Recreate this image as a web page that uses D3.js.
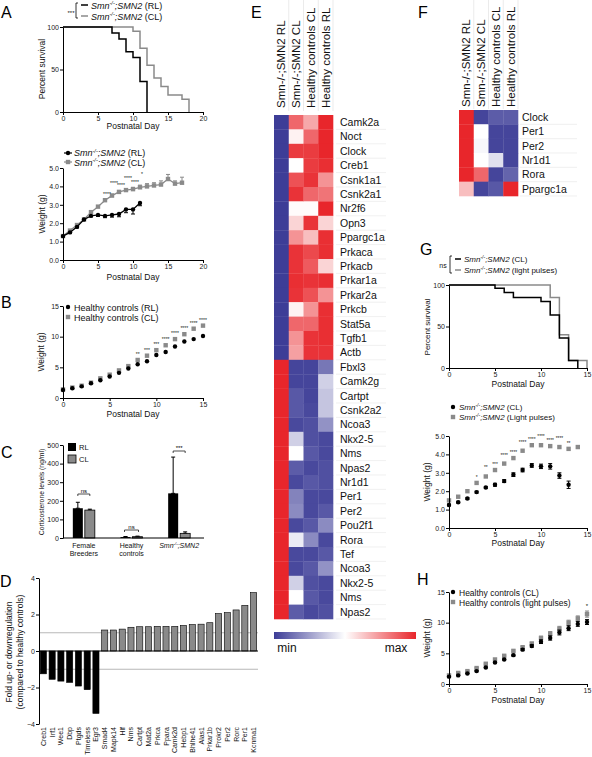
<!DOCTYPE html>
<html><head><meta charset="utf-8">
<script src="https://cdn.jsdelivr.net/npm/d3@7"></script>
<style>body{margin:0;background:#fff} svg{font-family:"Liberation Sans",Arial,sans-serif}</style>
</head><body><svg id="c" width="592" height="757"></svg>
<script>
// ---------------- DATA ----------------
// A survival (day, percent)
const survA_RL = [[0,100],[7,93],[8,86],[9,71],[10,64],[11,36],[12,0]];
const survA_CL = [[0,100],[10,95],[11,75],[12,55],[13,40],[14,30],[15,20],[17,15],[18,0]];
// A weight (g) per day
const wA_RL = [1.3,1.5,1.8,2.2,2.4,2.45,2.4,2.45,2.5,2.75,2.75,3.1];
const wA_RL_err = [0.05,0.05,0.05,0.05,0.06,0.08,0.1,0.12,0.15,0.18,0.25,0.15];
const wA_CL = [1.3,1.6,1.9,2.2,2.6,2.9,3.25,3.5,3.7,3.8,3.85,3.95,4.0,4.05,4.1,4.4,4.15,4.2];
const wA_CL_err = [0.05,0.05,0.05,0.05,0.06,0.06,0.08,0.08,0.08,0.08,0.1,0.12,0.15,0.15,0.2,0.25,0.15,0.3];
const wA_stars = [[6,"****"],[7,"****"],[8,"****"],[9,"****"],[10,"****"],[11,"*"]];
// B weight healthy controls
const wB_RL = [1.3,1.6,1.9,2.4,2.9,3.5,4.1,4.8,5.5,6.0,7.0,7.5,8.4,9.2,9.6,10.1];
const wB_CL = [1.4,1.7,2.0,2.5,3.2,3.8,4.5,5.2,6.2,6.9,7.8,8.6,9.6,10.4,11.3,11.8];
const wB_stars = [[8,"**"],[9,"***"],[10,"***"],[11,"****"],[12,"****"],[13,"****"],[14,"****"],[15,"****"]];
// C corticosterone
const cGroups = ["Female Breeders","Healthy controls","Smn"];
const cRL = [160,5,240];
const cRL_err = [32,3,195];
const cCL = [150,7,25];
const cCL_err = [5,3,8];
// D fold change
const dGenes = ["Creb1","Irf1","Wee1","Dbp","Ptgds","Timeless","Egr3","Smad4","Mapk14","Hlf","Nms","Cartpt","Mat2a","Prkca","Ppara","Camk2d","Hebp1","Bhlhe41","Alas1","Prkar1b","Prokr2","Per2","Rorc","Per1","Kcnma1"];
const dValues = [-1.25,-1.55,-1.65,-1.72,-1.92,-2.12,-3.42,1.15,1.15,1.2,1.3,1.33,1.33,1.35,1.35,1.35,1.4,1.45,1.47,1.55,2.05,2.1,2.25,2.5,3.2];
// E heatmap
const heatCols = ["Smn-/-;SMN2 RL","Smn-/-;SMN2 CL","Healthy controls CL","Healthy controls RL"];
const heatGenes = ["Camk2a","Noct","Clock","Creb1","Csnk1a1","Csnk2a1","Nr2f6","Opn3","Ppargc1a","Prkaca","Prkacb","Prkar1a","Prkar2a","Prkcb","Stat5a","Tgfb1","Actb","Fbxl3","Camk2g","Cartpt","Csnk2a2","Ncoa3","Nkx2-5","Nms","Npas2","Nr1d1","Per1","Per2","Pou2f1","Rora","Tef","Ncoa3","Nkx2-5","Nms","Npas2"];
const heatSmnRL = [0,0,0,0,0,0,0,0,0,0,0,0,0,0,0,0,0,1,1,1,1,1,1,1,1,1,1,1,1,1,1,1,1,1,1];
const heatSmnCL = [0.85,0.53,0.95,0.5,0.9,0.97,0.51,0.6,0.75,0.97,0.97,0.98,0.97,0.53,0.85,0.75,0.72,0.02,0.02,0.07,0.07,0.03,0.38,0.5,0.08,0.03,0.18,0.2,0.03,0.45,0.03,0.03,0.38,0.5,0.08];
const heatHcCL = [0.7,0.85,0.95,0.95,0.97,0.85,0.51,0.97,0.65,0.92,0.88,0.97,0.9,0.75,0.85,0.97,0.97,0.02,0.02,0.02,0.03,0.05,0.05,0.07,0.03,0.07,0.03,0.03,0.07,0.2,0.03,0.07,0.05,0.07,0.03];
const heatHcRL = [1,1,1,0.98,0.75,0.82,1,0.6,0.98,0.98,0.6,0.98,0.75,0.98,0.98,0.98,0.97,0.15,0.38,0.35,0.35,0.22,0.03,0.03,0.05,0.05,0.03,0.07,0.2,0.03,0.07,0.22,0.03,0.03,0.05];
// F heatmap
const fGenes = ["Clock","Per1","Per2","Nr1d1","Rora","Ppargc1a"];
const fSmnRL = [1,1,1,1,1,0.65];
const fSmnCL = [0.02,0.5,0.48,0.5,0.85,0.02];
const fHcCL = [0.08,0.02,0.02,0.42,0.02,0.07];
const fHcRL = [0.08,0.02,0.02,0.02,0.1,1];
// G survival
const survG_CL = [[0,100],[5,96],[6,91],[7,85],[10,80],[11,64],[12,36],[13,9],[14,0]];
const survG_LP = [[0,100],[11,85],[12,40],[13,9],[15,0]];
// G weight
const wG_CL = [1.25,1.4,1.6,1.95,2.2,2.35,2.55,2.9,3.15,3.4,3.35,3.35,2.85,2.35];
const wG_CL_err = [0.05,0.05,0.05,0.05,0.05,0.08,0.08,0.1,0.1,0.1,0.12,0.15,0.15,0.2];
const wG_LP = [1.5,1.7,2.0,2.45,2.8,3.15,3.5,3.8,4.2,4.5,4.5,4.45,4.4,4.3,4.4];
const wG_stars = [[3,"*"],[4,"**"],[5,"***"],[6,"****"],[7,"****"],[8,"****"],[9,"****"],[10,"****"],[11,"****"],[12,"****"],[13,"**"]];
// H weight
const wH_CL = [1.2,1.4,1.7,2.1,2.7,3.5,4.0,4.7,5.6,6.2,6.9,7.5,8.4,9.1,9.8,10.1];
const wH_CL_err = [0.05,0.05,0.05,0.1,0.1,0.1,0.1,0.15,0.15,0.2,0.3,0.35,0.4,0.4,0.4,0.4];
const wH_LP = [1.4,1.8,2.1,2.6,3.3,4.0,4.6,5.4,6.0,6.6,7.5,8.2,9.0,10.0,10.7,11.4];
const wH_LP_err = [0.05,0.05,0.05,0.1,0.1,0.1,0.1,0.15,0.15,0.2,0.3,0.35,0.4,0.4,0.4,0.5];

// ---------------- HELPERS ----------------
const svg = d3.select("#c");
const GRAY = "#8a8a8a";
function styleAxis(g, fs){
  g.selectAll(".domain").attr("stroke","#000").attr("stroke-width",1);
  g.selectAll(".tick line").attr("stroke","#000");
  g.selectAll(".tick text").attr("font-size",fs||7).attr("fill","#222").attr("font-family","Liberation Sans, Arial, sans-serif");
}
function xAxis(x, y, ticks){
  const g = svg.append("g").attr("transform",`translate(0,${y})`)
    .call(d3.axisBottom(x).tickValues(ticks).tickSize(3).tickSizeOuter(0).tickPadding(1));
  styleAxis(g); return g;
}
function yAxis(y, x, ticks){
  const g = svg.append("g").attr("transform",`translate(${x},0)`)
    .call(d3.axisLeft(y).tickValues(ticks).tickSize(3).tickSizeOuter(0).tickPadding(1));
  styleAxis(g); return g;
}
function txt(x,y,s,fs,anchor){
  return svg.append("text").attr("x",x).attr("y",y).attr("font-size",fs||8).attr("fill","#111")
    .attr("text-anchor",anchor||"start").text(s);
}
function vtxt(x,y,s,fs){
  return svg.append("text").attr("transform",`translate(${x},${y}) rotate(-90)`).attr("font-size",fs||8)
    .attr("fill","#111").attr("text-anchor","middle").text(s);
}
function letter(x,y,s){ return txt(x,y,s,16).attr("fill","#000"); }
function smnText(x,y,suffix,fs){
  const t = svg.append("text").attr("x",x).attr("y",y).attr("font-size",fs).attr("fill","#111");
  t.append("tspan").attr("font-style","italic").text("Smn");
  t.append("tspan").attr("font-style","italic").attr("font-size",fs*0.62).attr("dy",-fs*0.38).text("-/-");
  t.append("tspan").attr("font-style","italic").attr("dy",fs*0.38).text(";SMN2");
  t.append("tspan").text(" "+suffix);
  return t;
}
function circ(x,y,col){ svg.append("circle").attr("cx",x).attr("cy",y).attr("r",2.2).attr("fill",col); }
function sq(x,y,col){ svg.append("rect").attr("x",x-2.2).attr("y",y-2.2).attr("width",4.4).attr("height",4.4).attr("fill",col); }
function errBar(x,y0,y1,col){
  svg.append("line").attr("x1",x).attr("x2",x).attr("y1",y0).attr("y2",y1).attr("stroke",col).attr("stroke-width",1);
  svg.append("line").attr("x1",x-2).attr("x2",x+2).attr("y1",y0).attr("y2",y0).attr("stroke",col).attr("stroke-width",1);
  svg.append("line").attr("x1",x-2).attr("x2",x+2).attr("y1",y1).attr("y2",y1).attr("stroke",col).attr("stroke-width",1);
}
const stepLine = (x,y)=>d3.line().x(d=>x(d[0])).y(d=>y(d[1])).curve(d3.curveStepAfter);

// ---------------- PANEL A (survival) ----------------
letter(1,18,"A");
{
  const x = d3.scaleLinear([0,20],[63,203]);
  const y = d3.scaleLinear([0,100],[112,27]);
  svg.append("path").datum(survA_CL).attr("d",stepLine(x,y)).attr("fill","none").attr("stroke",GRAY).attr("stroke-width",1.5);
  svg.append("path").datum(survA_RL).attr("d",stepLine(x,y)).attr("fill","none").attr("stroke","#000").attr("stroke-width",1.5);
  xAxis(x,112,[0,5,10,15,20]);
  yAxis(y,63,[0,50,100]);
  vtxt(45,69,"Percent survival",8.5);
  txt(133,129,"Postnatal Day",8.5,"middle");
  // legend
  txt(71,15,"***",6,"middle");
  svg.append("path").attr("d","M78,3 L76,3 L76,18 L78,18").attr("fill","none").attr("stroke","#000").attr("stroke-width",0.8);
  svg.append("line").attr("x1",81).attr("x2",88).attr("y1",5).attr("y2",5).attr("stroke","#000").attr("stroke-width",1.5);
  svg.append("line").attr("x1",81).attr("x2",88).attr("y1",16).attr("y2",16).attr("stroke",GRAY).attr("stroke-width",1.5);
  smnText(91,8.5,"(RL)",9);
  smnText(91,19.5,"(CL)",9);
}
// ---------------- PANEL A (weight) ----------------
{
  const x = d3.scaleLinear([0,20],[63,203]);
  const y = d3.scaleLinear([0,5],[260,168]);
  const line = d3.line().x((d,i)=>x(i)).y(d=>y(d));
  svg.append("path").datum(wA_CL).attr("d",line).attr("fill","none").attr("stroke",GRAY).attr("stroke-width",1.3);
  wA_CL.forEach((v,i)=>{ errBar(x(i),y(v),y(v+wA_CL_err[i]),GRAY); sq(x(i),y(v),GRAY); });
  svg.append("path").datum(wA_RL).attr("d",line).attr("fill","none").attr("stroke","#000").attr("stroke-width",1.3);
  wA_RL.forEach((v,i)=>{ errBar(x(i),y(v),y(v-wA_RL_err[i]),"#000"); circ(x(i),y(v),"#000"); });
  wA_stars.forEach(([d,s],k)=>txt(x(d)+2,y(wA_CL[d]+wA_CL_err[d])-3-(k%2)*6,s,5,"middle"));
  xAxis(x,260,[0,5,10,15,20]);
  yAxis(y,63,[0,1,2,3,4,5]);
  vtxt(45,214,"Weight (g)",8.5);
  txt(133,280,"Postnatal Day",8.5,"middle");
  svg.append("line").attr("x1",64).attr("x2",72).attr("y1",153).attr("y2",153).attr("stroke","#000").attr("stroke-width",1.2);
  circ(68,153,"#000");
  svg.append("line").attr("x1",64).attr("x2",72).attr("y1",162).attr("y2",162).attr("stroke",GRAY).attr("stroke-width",1.2);
  sq(68,162,GRAY);
  smnText(74,156,"(RL)",9);
  smnText(74,165.5,"(CL)",9);
}
// ---------------- PANEL B ----------------
letter(1,308,"B");
{
  const x = d3.scaleLinear([0,15],[63,203]);
  const y = d3.scaleLinear([0,15],[398,306]);
  wB_CL.forEach((v,i)=>sq(x(i),y(v),GRAY));
  wB_RL.forEach((v,i)=>circ(x(i),y(v),"#000"));
  wB_stars.forEach(([d,s])=>txt(x(d),y(wB_CL[d])-4,s,5,"middle"));
  xAxis(x,398,[0,5,10,15]);
  yAxis(y,63,[0,5,10,15]);
  vtxt(44,352,"Weight (g)",8.5);
  txt(133,417,"Postnatal Day",8.5,"middle");
  circ(68,307,"#000"); sq(68,317,GRAY);
  txt(74,310.5,"Healthy controls (RL)",9);
  txt(74,320.5,"Healthy controls (CL)",9);
}
// ---------------- PANEL C ----------------
letter(1,458,"C");
{
  const y = d3.scaleLinear([0,500],[538,445]);
  const gx = d3.scaleBand().domain(cGroups).range([60,203]).paddingInner(0);
  const bw = 10;
  cGroups.forEach((g,i)=>{
    const cx = gx(g)+gx.bandwidth()/2;
    const xr = cx-bw-1, xc = cx+1;
    errBar(xr+bw/2, y(cRL[i]), y(cRL[i]+cRL_err[i]), "#000");
    svg.append("rect").attr("x",xr).attr("y",y(cRL[i])).attr("width",bw).attr("height",y(0)-y(cRL[i])).attr("fill","#000");
    errBar(xc+bw/2, y(cCL[i]), y(cCL[i]+cCL_err[i]), "#000");
    svg.append("rect").attr("x",xc).attr("y",y(cCL[i])).attr("width",bw).attr("height",y(0)-y(cCL[i])).attr("fill",GRAY).attr("stroke","#000").attr("stroke-width",0.8);
  });
  svg.append("line").attr("x1",63).attr("x2",204).attr("y1",538).attr("y2",538).attr("stroke","#000");
  yAxis(y,63,[0,100,200,300,400,500]);
  vtxt(44,492,"Corticosterone levels (ng/ml)",6.8);
  const c0 = gx(cGroups[0])+gx.bandwidth()/2, c1 = gx(cGroups[1])+gx.bandwidth()/2, c2 = gx(cGroups[2])+gx.bandwidth()/2;
  txt(c0,548,"Female",7,"middle"); txt(c0,556,"Breeders",7,"middle");
  txt(c1,548,"Healthy",7,"middle"); txt(c1,556,"controls",7,"middle");
  smnText(c2-20,548,"",7);
  const br=(x1,x2,yy,s)=>{ svg.append("path").attr("d",`M${x1},${yy+2} L${x1},${yy} L${x2},${yy} L${x2},${yy+2}`).attr("fill","none").attr("stroke","#000").attr("stroke-width",0.7); txt((x1+x2)/2,yy-1.5,s,6,"middle").attr("fill","#000"); };
  br(c0-6,c0+6,494,"ns");
  br(c1-7,c1+7,530,"ns");
  br(c2-6,c2+6,451,"***");
  svg.append("rect").attr("x",68).attr("y",443).attr("width",8).attr("height",8).attr("fill","#000");
  svg.append("rect").attr("x",68).attr("y",455).attr("width",8).attr("height",8).attr("fill",GRAY).attr("stroke","#000").attr("stroke-width",0.8);
  txt(79,450,"RL",7.5); txt(79,462,"CL",7.5);
}
// ---------------- PANEL D ----------------
letter(0,587,"D");
{
  const y = d3.scaleLinear([-4,4],[724,578]);
  const x = d3.scaleBand().domain(dGenes).range([39,258]).paddingInner(0.3).paddingOuter(0.15);
  [1,-1].forEach(v=>svg.append("line").attr("x1",39).attr("x2",258).attr("y1",y(v)).attr("y2",y(v)).attr("stroke","#999").attr("stroke-width",0.7));
  dGenes.forEach((g,i)=>{
    const v = dValues[i];
    svg.append("rect").attr("x",x(g)).attr("y",Math.min(y(v),y(0))).attr("width",x.bandwidth())
      .attr("height",Math.abs(y(v)-y(0))).attr("fill",v<0?"#000":GRAY).attr("stroke","#000").attr("stroke-width",0.6);
    svg.append("text").attr("transform",`translate(${x(g)+x.bandwidth()/2+2.5},727) rotate(-90)`)
      .attr("text-anchor","end").attr("font-size",7).attr("fill","#111").text(g);
  });
  svg.append("line").attr("x1",39).attr("x2",258).attr("y1",y(0)).attr("y2",y(0)).attr("stroke","#000");
  yAxis(y,39,[-4,-2,0,2,4]);
  vtxt(12,652,"Fold up- or downregulation",8.5);
  vtxt(23,652,"(compared to healthy controls)",8.5);
}
// ---------------- PANEL E ----------------
const heatColor = d3.scaleLinear().domain([0,0.5,1]).range(["#3d3d97","#ffffff","#e8262b"]);
letter(251,18,"E");
{
  const cols = [heatSmnRL,heatSmnCL,heatHcCL,heatHcRL];
  const x = d3.scaleBand().domain(heatCols).range([274,333]);
  const y = d3.scaleBand().domain(d3.range(heatGenes.length)).range([115,619]);
  heatGenes.forEach((g,i)=>{
    svg.append("line").attr("x1",336).attr("x2",386).attr("y1",y(i)+y.bandwidth()).attr("y2",y(i)+y.bandwidth()).attr("stroke","#e6e6e6").attr("stroke-width",0.6);
  });
  heatCols.forEach((c,j)=>{
    cols[j].forEach((v,i)=>{
      svg.append("rect").attr("x",x(c)).attr("y",y(i)).attr("width",x.bandwidth()+0.3).attr("height",y.bandwidth()+0.3).attr("fill",heatColor(v));
    });
    svg.append("line").attr("x1",x(c)+x.bandwidth()).attr("x2",x(c)+x.bandwidth()).attr("y1",0).attr("y2",111).attr("stroke","#dddddd").attr("stroke-width",0.6);
    svg.append("text").attr("transform",`translate(${x(c)+x.bandwidth()/2+4},108) rotate(-90)`)
      .attr("font-size",11.5).attr("fill","#111").text(c);
  });
  heatGenes.forEach((g,i)=>txt(340,y(i)+y.bandwidth()/2+3.8,g,10.5));
  const defs = svg.append("defs");
  const lg = defs.append("linearGradient").attr("id","hg");
  [[0,"#3d3d97"],[0.5,"#ffffff"],[1,"#e8262b"]].forEach(([o,c])=>lg.append("stop").attr("offset",o).attr("stop-color",c));
  svg.append("rect").attr("x",274).attr("y",632).attr("width",142).attr("height",7).attr("fill","url(#hg)");
  txt(287,652,"min",12,"middle");
  txt(396,652,"max",12,"middle");
}
// ---------------- PANEL F ----------------
letter(418,18,"F");
{
  const cols = [fSmnRL,fSmnCL,fHcCL,fHcRL];
  const x = d3.scaleBand().domain(heatCols).range([459,518]);
  const y = d3.scaleBand().domain(d3.range(fGenes.length)).range([110,196]);
  fGenes.forEach((g,i)=>{
    svg.append("line").attr("x1",520).attr("x2",577).attr("y1",y(i)+y.bandwidth()).attr("y2",y(i)+y.bandwidth()).attr("stroke","#e6e6e6").attr("stroke-width",0.6);
  });
  heatCols.forEach((c,j)=>{
    cols[j].forEach((v,i)=>{
      svg.append("rect").attr("x",x(c)).attr("y",y(i)).attr("width",x.bandwidth()+0.3).attr("height",y.bandwidth()+0.3).attr("fill",heatColor(v));
    });
    svg.append("line").attr("x1",x(c)+x.bandwidth()).attr("x2",x(c)+x.bandwidth()).attr("y1",0).attr("y2",109).attr("stroke","#dddddd").attr("stroke-width",0.6);
    svg.append("text").attr("transform",`translate(${x(c)+x.bandwidth()/2+4},107) rotate(-90)`)
      .attr("font-size",11.5).attr("fill","#111").text(c);
  });
  fGenes.forEach((g,i)=>txt(522,y(i)+y.bandwidth()/2+3.8,g,10.5));
}
// ---------------- PANEL G (survival) ----------------
letter(420,255,"G");
{
  const x = d3.scaleLinear([0,15],[449,587]);
  const y = d3.scaleLinear([0,100],[368,285]);
  svg.append("path").datum(survG_LP).attr("d",stepLine(x,y)).attr("fill","none").attr("stroke",GRAY).attr("stroke-width",1.5);
  svg.append("path").datum(survG_CL).attr("d",stepLine(x,y)).attr("fill","none").attr("stroke","#000").attr("stroke-width",1.5);
  xAxis(x,368,[0,5,10,15]);
  yAxis(y,449,[0,50,100]);
  vtxt(430,327,"Percent survival",8);
  txt(518,387,"Postnatal Day",8.5,"middle");
  txt(443,268,"ns",7,"middle");
  svg.append("path").attr("d","M452,256 L450,256 L450,273 L452,273").attr("fill","none").attr("stroke","#000").attr("stroke-width",0.8);
  svg.append("line").attr("x1",455).attr("x2",461).attr("y1",259).attr("y2",259).attr("stroke","#000").attr("stroke-width",1.5);
  svg.append("line").attr("x1",455).attr("x2",461).attr("y1",270).attr("y2",270).attr("stroke",GRAY).attr("stroke-width",1.5);
  smnText(464,262,"(CL)",8);
  smnText(464,273,"(light pulses)",8);
}
// ---------------- PANEL G (weight) ----------------
{
  const x = d3.scaleLinear([0,15],[449,587]);
  const y = d3.scaleLinear([0,5],[528,436]);
  wG_LP.forEach((v,i)=>sq(x(i),y(v),GRAY));
  wG_CL.forEach((v,i)=>{ errBar(x(i),y(v+wG_CL_err[i]),y(v-wG_CL_err[i]),"#000"); circ(x(i),y(v),"#000"); });
  wG_stars.forEach(([d,s],k)=>txt(x(d),y(wG_LP[d])-4-(k%2)*3,s,4.8,"middle"));
  xAxis(x,528,[0,5,10,15]);
  yAxis(y,449,[0,1,2,3,4,5]);
  vtxt(430,482,"Weight (g)",8.5);
  txt(518,546,"Postnatal Day",8.5,"middle");
  circ(453,407,"#000"); sq(453,417,GRAY);
  smnText(459,410,"(CL)",8);
  smnText(459,420,"(Light pulses)",8);
}
// ---------------- PANEL H ----------------
letter(417,585,"H");
{
  const x = d3.scaleLinear([0,15],[449,587]);
  const y = d3.scaleLinear([0,15],[684,592]);
  wH_LP.forEach((v,i)=>{ errBar(x(i),y(v+wH_LP_err[i]),y(v-wH_LP_err[i]),GRAY); sq(x(i),y(v),GRAY); });
  wH_CL.forEach((v,i)=>{ errBar(x(i),y(v+wH_CL_err[i]),y(v-wH_CL_err[i]),"#000"); circ(x(i),y(v),"#000"); });
  txt(x(15),y(wH_LP[15]+wH_LP_err[15])-3,"*",6,"middle");
  xAxis(x,684,[0,5,10,15]);
  yAxis(y,449,[0,5,10,15]);
  vtxt(430,638,"Weight (g)",8.5);
  txt(518,703,"Postnatal Day",8.5,"middle");
  circ(453,592,"#000"); sq(453,602,GRAY);
  txt(459,595.5,"Healthy controls (CL)",8.5);
  txt(459,605.5,"Healthy controls (light pulses)",8.5);
}
</script></body></html>
